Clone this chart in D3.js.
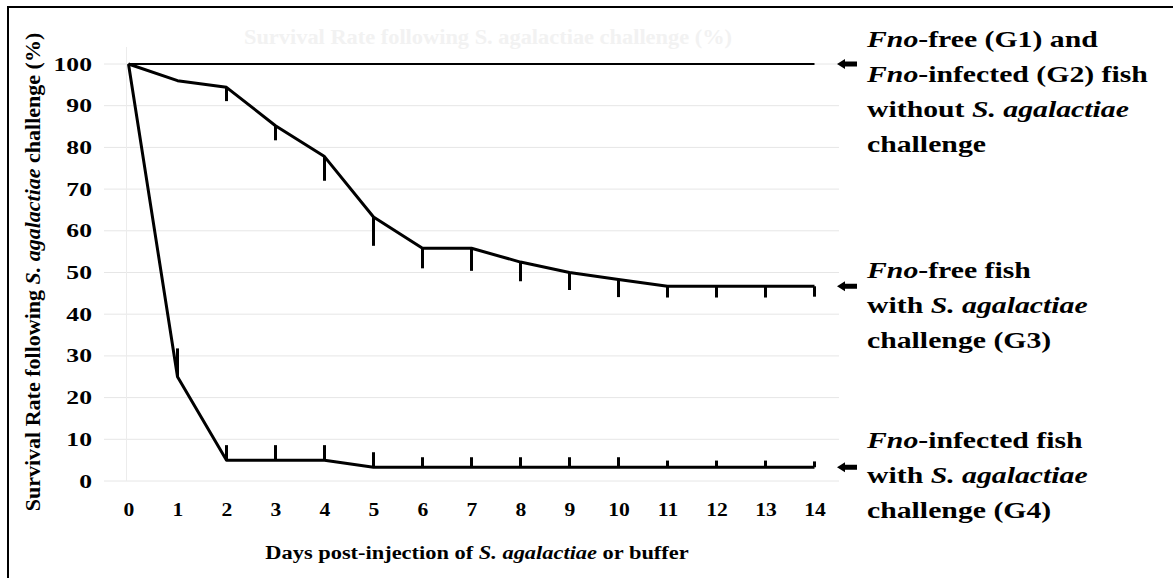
<!DOCTYPE html>
<html>
<head>
<meta charset="utf-8">
<script src="https://cdn.jsdelivr.net/npm/d3@7"></script>
<style>
  body { margin: 0; background: #fff; }
</style>
</head>
<body>
<svg id="chart" width="1173" height="578"></svg>
<script>
const days = [0, 1, 2, 3, 4, 5, 6, 7, 8, 9, 10, 11, 12, 13, 14];
const yTicks = [0, 10, 20, 30, 40, 50, 60, 70, 80, 90, 100];

// G1 + G2, no challenge
const g12 = [100, 100, 100, 100, 100, 100, 100, 100, 100, 100, 100, 100, 100, 100, 100];
// G3, Fno-free + challenge (error bars drawn downward)
const g3 = [100, 96, 94.4, 85.2, 77.8, 63.3, 55.8, 55.8, 52.5, 50, 48.3, 46.7, 46.7, 46.7, 46.7];
const g3Err = [0, 0, 3.3, 3.5, 5.8, 6.9, 4.8, 5.4, 4.6, 4.2, 4.2, 2.7, 2.7, 2.7, 2.5];
// G4, Fno-infected + challenge (error bars drawn upward)
const g4 = [100, 25, 5, 5, 5, 3.3, 3.3, 3.3, 3.3, 3.3, 3.3, 3.3, 3.3, 3.3, 3.3];
const g4Err = [0, 6.8, 3.6, 3.6, 3.6, 3.6, 2.4, 2.4, 2.4, 2.4, 2.4, 1.6, 1.6, 1.6, 1.4];

const labels = [
  { y: 100, lines: [[["Fno", true], ["-free (G1) and", false]],
                    [["Fno", true], ["-infected (G2) fish", false]],
                    [["without ", false], ["S. ", true], ["agalactiae", true]],
                    [["challenge", false]]], top: 47 },
  { y: 46.7, lines: [[["Fno", true], ["-free fish", false]],
                     [["with ", false], ["S. ", true], ["agalactiae", true]],
                     [["challenge (G3)", false]]], top: 278 },
  { y: 3.3, lines: [[["Fno", true], ["-infected fish", false]],
                    [["with ", false], ["S. ", true], ["agalactiae", true]],
                    [["challenge (G4)", false]]], top: 448 }
];

const svg = d3.select("#chart");
const serif = "Liberation Serif";

const x = d3.scaleLinear().domain([-0.5, 14.5]).range([104, 839]);
const y = d3.scaleLinear().domain([0, 100]).range([481, 64]);

// frame (top + left only, the figure is cropped)
svg.append("path")
  .attr("d", "M8,578 L8,7 L1173,7")
  .attr("fill", "none")
  .attr("stroke", "#000")
  .attr("stroke-width", 2);

// text helper, the source figure is stretched sideways
function label(px, py, size, sx, anchor) {
  return svg.append("text")
    .attr("transform", `translate(${px},${py}) scale(${sx},1)`)
    .attr("text-anchor", anchor)
    .attr("font-family", serif)
    .attr("font-weight", "bold")
    .attr("font-size", size);
}

// faint title
label(488, 44, 20, 1.12, "middle")
  .attr("fill", "#f2f2f2")
  .text("Survival Rate following S. agalactiae challenge (%)");

// gridlines
svg.append("g")
  .selectAll("line")
  .data(yTicks)
  .enter()
  .append("line")
  .attr("x1", x(-0.5)).attr("x2", x(14.5))
  .attr("y1", d => y(d)).attr("y2", d => y(d))
  .attr("stroke", "#e6e6e6")
  .attr("stroke-width", 1);

svg.append("line")
  .attr("x1", x(0) - 2).attr("x2", x(0) - 2)
  .attr("y1", 47).attr("y2", y(0))
  .attr("stroke", "#ececec");

// y axis labels
const yAxis = d3.axisLeft(y).tickValues(yTicks).tickSize(0).tickPadding(0);
const yg = svg.append("g").attr("transform", "translate(92,0)").call(yAxis)
  .attr("font-family", serif).attr("font-size", 19).attr("font-weight", "bold");
yg.select(".domain").remove();
yg.selectAll("text").attr("fill", "#000").attr("transform", "scale(1.35,1)");

// x axis labels
const xAxis = d3.axisBottom(x).tickValues(days).tickSize(0).tickPadding(0);
const xg = svg.append("g").attr("transform", "translate(0,503)").call(xAxis)
  .attr("font-family", serif).attr("font-size", 18).attr("font-weight", "bold");
xg.select(".domain").remove();
xg.selectAll("text").attr("fill", "#000").attr("transform", "scale(1.2,1)");

// axis titles
svg.append("text")
  .attr("transform", "translate(40,272) rotate(-90)")
  .attr("text-anchor", "middle")
  .attr("font-family", serif)
  .attr("font-weight", "bold")
  .attr("font-size", 22)
  .call(t => {
    t.append("tspan").text("Survival Rate following ");
    t.append("tspan").attr("font-style", "italic").text("S. agalactiae");
    t.append("tspan").text(" challenge (%)");
  });

label(477, 559, 19, 1.18, "middle")
  .call(t => {
    t.append("tspan").text("Days post-injection of ");
    t.append("tspan").attr("font-style", "italic").text("S. agalactiae");
    t.append("tspan").text(" or buffer");
  });

// error bars
function errorBars(vals, errs, dir) {
  svg.append("g")
    .selectAll("line")
    .data(days.filter(d => errs[d] > 0))
    .enter()
    .append("line")
    .attr("x1", d => x(d)).attr("x2", d => x(d))
    .attr("y1", d => y(vals[d]))
    .attr("y2", d => y(vals[d] + dir * errs[d]))
    .attr("stroke", "#000")
    .attr("stroke-width", 3);
}
errorBars(g3, g3Err, -1);
errorBars(g4, g4Err, 1);

// lines
const line = vals => d3.line().x(d => x(d)).y(d => y(vals[d]))(days);
svg.append("path").attr("d", line(g12)).attr("fill", "none")
  .attr("stroke", "#000").attr("stroke-width", 2);
[g3, g4].forEach(vals => {
  svg.append("path").attr("d", line(vals)).attr("fill", "none")
    .attr("stroke", "#000").attr("stroke-width", 3)
    .attr("stroke-linejoin", "round");
});

// arrows and annotations
labels.forEach(l => {
  const ay = y(l.y);
  svg.append("path")
    .attr("d", `M837,${ay} L845,${ay - 5} L845,${ay - 2.5} L857,${ay - 2.5} L857,${ay + 2.5} L845,${ay + 2.5} L845,${ay + 5} Z`)
    .attr("fill", "#000");
  const t = label(867, l.top, 24, 1.24, "start");
  l.lines.forEach((parts, i) => {
    parts.forEach((p, j) => {
      const ts = t.append("tspan").text(p[0]);
      if (j === 0) ts.attr("x", 0).attr("y", i * 35);
      if (p[1]) ts.attr("font-style", "italic");
    });
  });
});
</script>
</body>
</html>
